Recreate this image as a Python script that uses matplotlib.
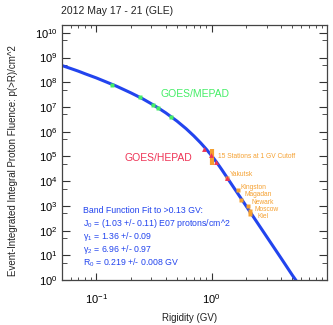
import matplotlib
matplotlib.use('Agg')
import matplotlib.pyplot as plt
from matplotlib.ticker import LogLocator, NullFormatter, FixedLocator

plt.rcParams['font.family'] = ['Liberation Sans', 'DejaVu Sans']
plt.rcParams['mathtext.default'] = 'regular'

# band function fit curve
rigidity_fit = [0.05, 0.06, 0.07, 0.08, 0.1, 0.12, 0.15, 0.2, 0.25, 0.3, 0.35, 0.4,
                0.5, 0.6, 0.7, 0.8, 0.9, 1.0, 1.1, 1.2, 1.226, 1.5, 2.0, 3.0, 4.0, 5.0, 5.5]
fluence_fit = [4.8e8, 3.6e8, 2.8e8, 2.2e8, 1.5e8, 1.06e8, 6.9e7, 3.7e7, 2.2e7, 1.35e7, 8.7e6, 5.8e6,
               2.7e6, 1.33e6, 6.8e5, 3.6e5, 1.95e5, 1.07e5, 6.0e4, 3.35e4, 2.9e4, 7.1e3, 960, 57, 7.7, 1.6, 0.85]

# GOES/MEPAD points
mepad_rig = [0.137, 0.239, 0.311, 0.340, 0.444]
mepad_flu = [8.1e7, 2.6e7, 1.26e7, 9.1e6, 3.8e6]

# GOES/HEPAD points
hepad_rig = [0.85, 0.99, 1.10, 1.36]
hepad_flu = [2.1e5, 1.1e5, 6.2e4, 1.35e4]

# neutron monitors
cutoff_rig = 1.0
cutoff_lo = 4.4e4
cutoff_hi = 2.1e5
stations = ['Yakutsk', 'Kingston', 'Magadan', 'Newark', 'Moscow', 'Kiel']
station_rig = [1.35, 1.68, 1.80, 2.08, 2.13, 2.17]
station_flu = [1.35e4, 4.3e3, 1.8e3, 9.5e2, 6.0e2, 4.6e2]
label_offsets = [(3, 3), (3, 3), (3, 5), (3, 4), (5, 2), (7, -2)]

x_ticks = [0.1, 1.0]

fit_lines = ['Band Function Fit to >0.13 GV:',
             '$J_0$ = (1.03 +/- 0.11) E07 protons/cm^2',
             r'$\gamma_1$ = 1.36 +/- 0.09',
             r'$\gamma_2$ = 6.96 +/- 0.97',
             '$R_0$ = 0.219 +/- 0.008 GV']

blue = '#2244ee'
orange = '#f5a030'
green = '#44ee66'
red = '#ee3355'

fig = plt.figure(figsize=(3.33, 3.25), dpi=100)
ax = fig.add_axes([0.185, 0.138, 0.797, 0.784])

ax.plot(rigidity_fit, fluence_fit, color=blue, lw=2.2, zorder=2)
ax.plot(mepad_rig, mepad_flu, 's', color=green, ms=2.5, mec='none', zorder=3)
ax.plot(hepad_rig, hepad_flu, '^', color=red, ms=3.5, mec='none', zorder=4)
ax.vlines(cutoff_rig, cutoff_lo, cutoff_hi, color=orange, lw=3, zorder=3)
ax.plot(station_rig, station_flu, 's', color=orange, ms=3, mec='none', zorder=3)

ax.annotate('15 Stations at 1 GV Cutoff', (cutoff_rig, (cutoff_lo * cutoff_hi) ** 0.5),
            xytext=(6, 0), textcoords='offset pixels', color=orange, fontsize=4.8,
            ha='left', va='center')
for name, r, f, off in zip(stations, station_rig, station_flu, label_offsets):
    ax.annotate(name, (r, f), xytext=off, textcoords='offset pixels', color=orange,
                fontsize=4.8, ha='left', va='center')

ax.text(0.501, 0.729, 'GOES/MEPAD', color=green, fontsize=7.5, ha='center', va='center',
        transform=ax.transAxes)
ax.text(0.366, 0.478, 'GOES/HEPAD', color=red, fontsize=7.5, ha='center', va='center',
        transform=ax.transAxes)

for i, line in enumerate(fit_lines):
    ax.text(0.079, 0.275 - i * 0.052, line, color=blue, fontsize=6.3, ha='left', va='center',
            transform=ax.transAxes)

ax.set_xscale('log')
ax.set_yscale('log')
ax.set_xlim(0.05, 10)
ax.set_ylim(1, 2e10)
ax.xaxis.set_major_locator(FixedLocator(x_ticks))
ax.yaxis.set_major_locator(LogLocator(base=10, numticks=20))
ax.yaxis.set_minor_locator(LogLocator(base=10, subs=[5], numticks=20))
ax.yaxis.set_minor_formatter(NullFormatter())
ax.xaxis.set_minor_locator(LogLocator(base=10, subs=range(2, 10), numticks=20))
ax.xaxis.set_minor_formatter(NullFormatter())

ax.tick_params(which='both', direction='in', top=True, right=True, labelsize=8, color='#333333')
ax.tick_params(axis='y', which='major', length=6, pad=3)
ax.tick_params(axis='y', which='minor', length=3.5)
ax.tick_params(axis='x', which='major', length=5, pad=9)
ax.tick_params(axis='x', which='minor', length=2.5)
for s in ax.spines.values():
    s.set_color('#444444')
    s.set_linewidth(0.9)

fig.text(61 / 333, 1 - 11 / 325, '2012 May 17 - 21 (GLE)', fontsize=7.5, ha='left', va='center',
         color='#222222')
fig.text(190 / 333, 1 - 318 / 325, 'Rigidity (GV)', fontsize=7, ha='center', va='center',
         color='#222222')
fig.text(13 / 333, 1 - 161 / 325, 'Event-Integrated Integral Proton Fluence: p(>R)/cm^2',
         fontsize=7, rotation=90, ha='center', va='center', color='#222222')

fig.savefig('out.png', dpi=100)
